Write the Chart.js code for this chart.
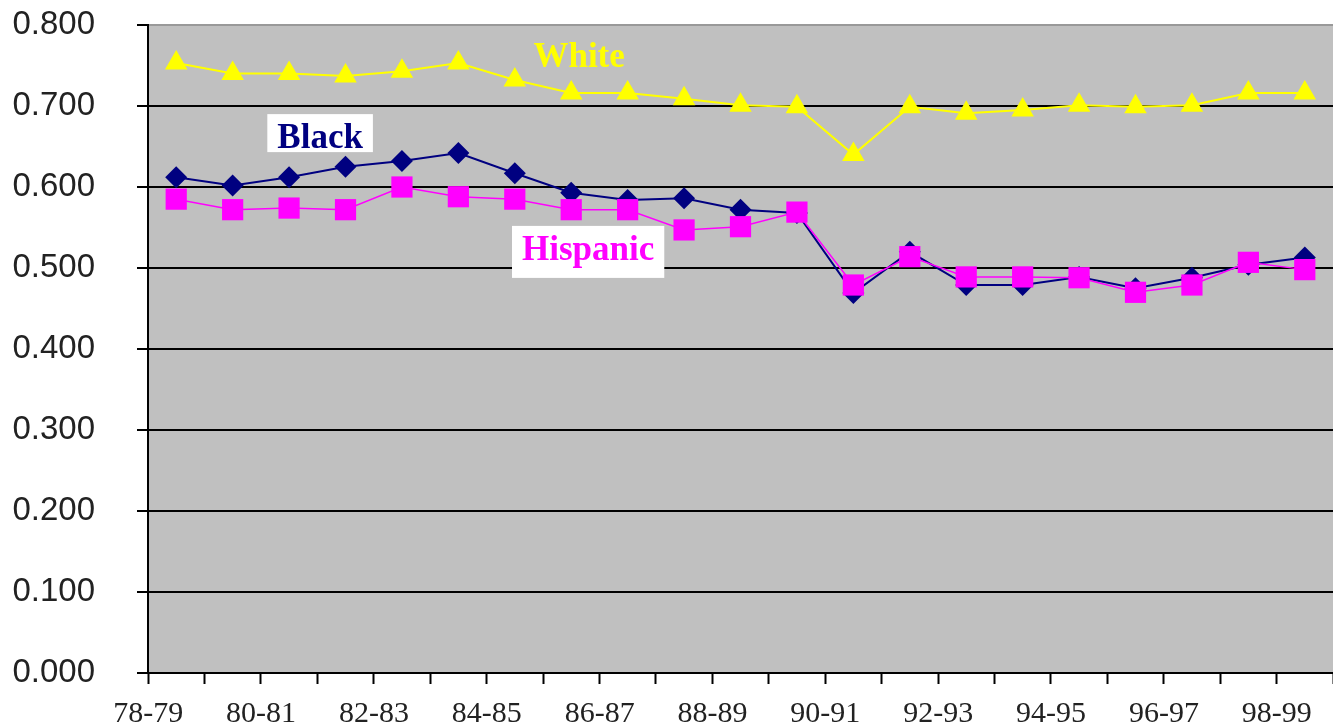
<!DOCTYPE html>
<html>
<head>
<meta charset="utf-8">
<script src="https://cdn.jsdelivr.net/npm/chart.js@4/dist/chart.umd.min.js"></script>
<style>
  body { margin: 0; background: #fff; }
  canvas { display: block; }
</style>
</head>
<body>
<canvas id="ratioChart" width="1333" height="726"></canvas>
<script>
// School years on the x axis (only every other one gets a label)
const years = ['78-79', '79-80', '80-81', '81-82', '82-83', '83-84', '84-85',
    '85-86', '86-87', '87-88', '88-89', '89-90', '90-91', '91-92', '92-93',
    '93-94', '94-95', '95-96', '96-97', '97-98', '98-99'];

const white = [0.753, 0.740, 0.740, 0.737, 0.743, 0.753, 0.732, 0.716, 0.716, 0.709, 0.701,
    0.699, 0.640, 0.699, 0.691, 0.695, 0.701, 0.699, 0.701, 0.716, 0.716];
const black = [0.612, 0.602, 0.612, 0.625, 0.632, 0.642, 0.617, 0.593, 0.584, 0.586, 0.572,
    0.568, 0.469, 0.520, 0.479, 0.479, 0.489, 0.475, 0.488, 0.504, 0.513];
const hispanic = [0.585, 0.572, 0.574, 0.572, 0.600, 0.588, 0.585, 0.572, 0.572, 0.547, 0.551,
    0.569, 0.479, 0.514, 0.489, 0.489, 0.488, 0.470, 0.479, 0.507, 0.498];

const yTicks = [0, 0.1, 0.2, 0.3, 0.4, 0.5, 0.6, 0.7, 0.8];

// series names written inside the plot
const seriesLabels = [
    { text: 'White', x: 7.14, y: 0.748, color: '#FFFF00', box: false },
    { text: 'Black', x: 2.55, y: 0.648, color: '#000080', box: true, down: 4 },
    { text: 'Hispanic', x: 7.30, y: 0.510, color: '#FF00FF', box: true, down: 18 }
];

// plot background + labels on top of the lines
const plotDecor = {
    id: 'plotDecor',
    beforeDraw(chart) {
        const a = chart.chartArea;
        const ctx = chart.ctx;
        ctx.save();
        ctx.fillStyle = '#C0C0C0';
        ctx.fillRect(a.left, a.top, a.right - a.left, a.bottom - a.top);
        ctx.restore();
    },
    afterDatasetsDraw(chart) {
        const ctx = chart.ctx;
        const xs = chart.scales.x, ys = chart.scales.y;
        ctx.save();
        ctx.font = 'bold 35px "Liberation Serif", "Times New Roman", serif';
        ctx.textAlign = 'center';
        ctx.textBaseline = 'alphabetic';
        seriesLabels.forEach(l => {
            const px = xs.getPixelForDecimal((l.x + 0.5) / years.length);
            const py = ys.getPixelForValue(l.y);
            const w = ctx.measureText(l.text).width;
            if (l.box) {
                ctx.fillStyle = '#FFFFFF';
                ctx.fillRect(px - w / 2 - 10, py - 34, w + 20, 34 + l.down);
            }
            ctx.fillStyle = l.color;
            ctx.fillText(l.text, px, py);
        });
        ctx.restore();
    }
};

const ctx = document.getElementById('ratioChart').getContext('2d');
new Chart(ctx, {
    type: 'line',
    data: {
        labels: years,
        datasets: [
            {
                label: 'White',
                data: white,
                borderColor: '#FFFF00',
                backgroundColor: '#FFFF00',
                borderWidth: 2,
                pointStyle: 'triangle',
                pointRadius: 13,
                pointBorderWidth: 0,
                order: 2
            },
            {
                label: 'Black',
                data: black,
                borderColor: '#000080',
                backgroundColor: '#000080',
                borderWidth: 2,
                pointStyle: 'rectRot',
                pointRadius: 11,
                pointBorderWidth: 0,
                order: 1
            },
            {
                label: 'Hispanic',
                data: hispanic,
                borderColor: '#FF00FF',
                backgroundColor: '#FF00FF',
                borderWidth: 1.5,
                pointStyle: 'rect',
                pointRadius: 15,
                pointBorderWidth: 0,
                order: 0
            }
        ]
    },
    options: {
        responsive: false,
        animation: false,
        layout: { autoPadding: false, padding: { top: 25, right: 0, left: 0, bottom: 0 } },
        plugins: {
            legend: { display: false },
            tooltip: { enabled: false }
        },
        scales: {
            x: {
                offset: true,
                grid: {
                    offset: true,
                    drawOnChartArea: false,
                    drawTicks: true,
                    tickLength: 11,
                    tickColor: '#000',
                    tickWidth: 2
                },
                border: { display: true, color: '#000', width: 2 },
                ticks: {
                    autoSkip: false,
                    maxRotation: 0,
                    minRotation: 0,
                    padding: 12,
                    labelOffset: -28,
                    color: '#222',
                    font: { family: '"Liberation Serif", "Times New Roman", serif', size: 30 },
                    callback: function (value, index) {
                        return index % 2 === 0 ? this.getLabelForValue(value) : '';
                    }
                },
                afterFit: s => {
                    s.height = 53;
                    s.paddingLeft = 0; s.paddingRight = 0;
                    s.paddingTop = 0; s.paddingBottom = 0;
                }
            },
            y: {
                min: 0,
                max: 0.8,
                afterBuildTicks: s => { s.ticks = yTicks.map(v => ({ value: v })); },
                grid: {
                    color: c => c.tick && c.tick.value === 0.8 ? '#999999' : '#000000',
                    lineWidth: 2,
                    tickLength: 11,
                    tickColor: '#000',
                    tickWidth: 2
                },
                border: { display: true, color: '#000', width: 2 },
                ticks: {
                    padding: 42,
                    color: '#222',
                    font: { family: '"Liberation Sans", Arial, sans-serif', size: 33 },
                    callback: v => v.toFixed(3)
                },
                afterFit: s => {
                    s.width = 148;
                    s.paddingLeft = 0; s.paddingRight = 0;
                    s.paddingTop = 0; s.paddingBottom = 0;
                }
            }
        }
    },
    plugins: [plotDecor]
});
</script>
</body>
</html>
